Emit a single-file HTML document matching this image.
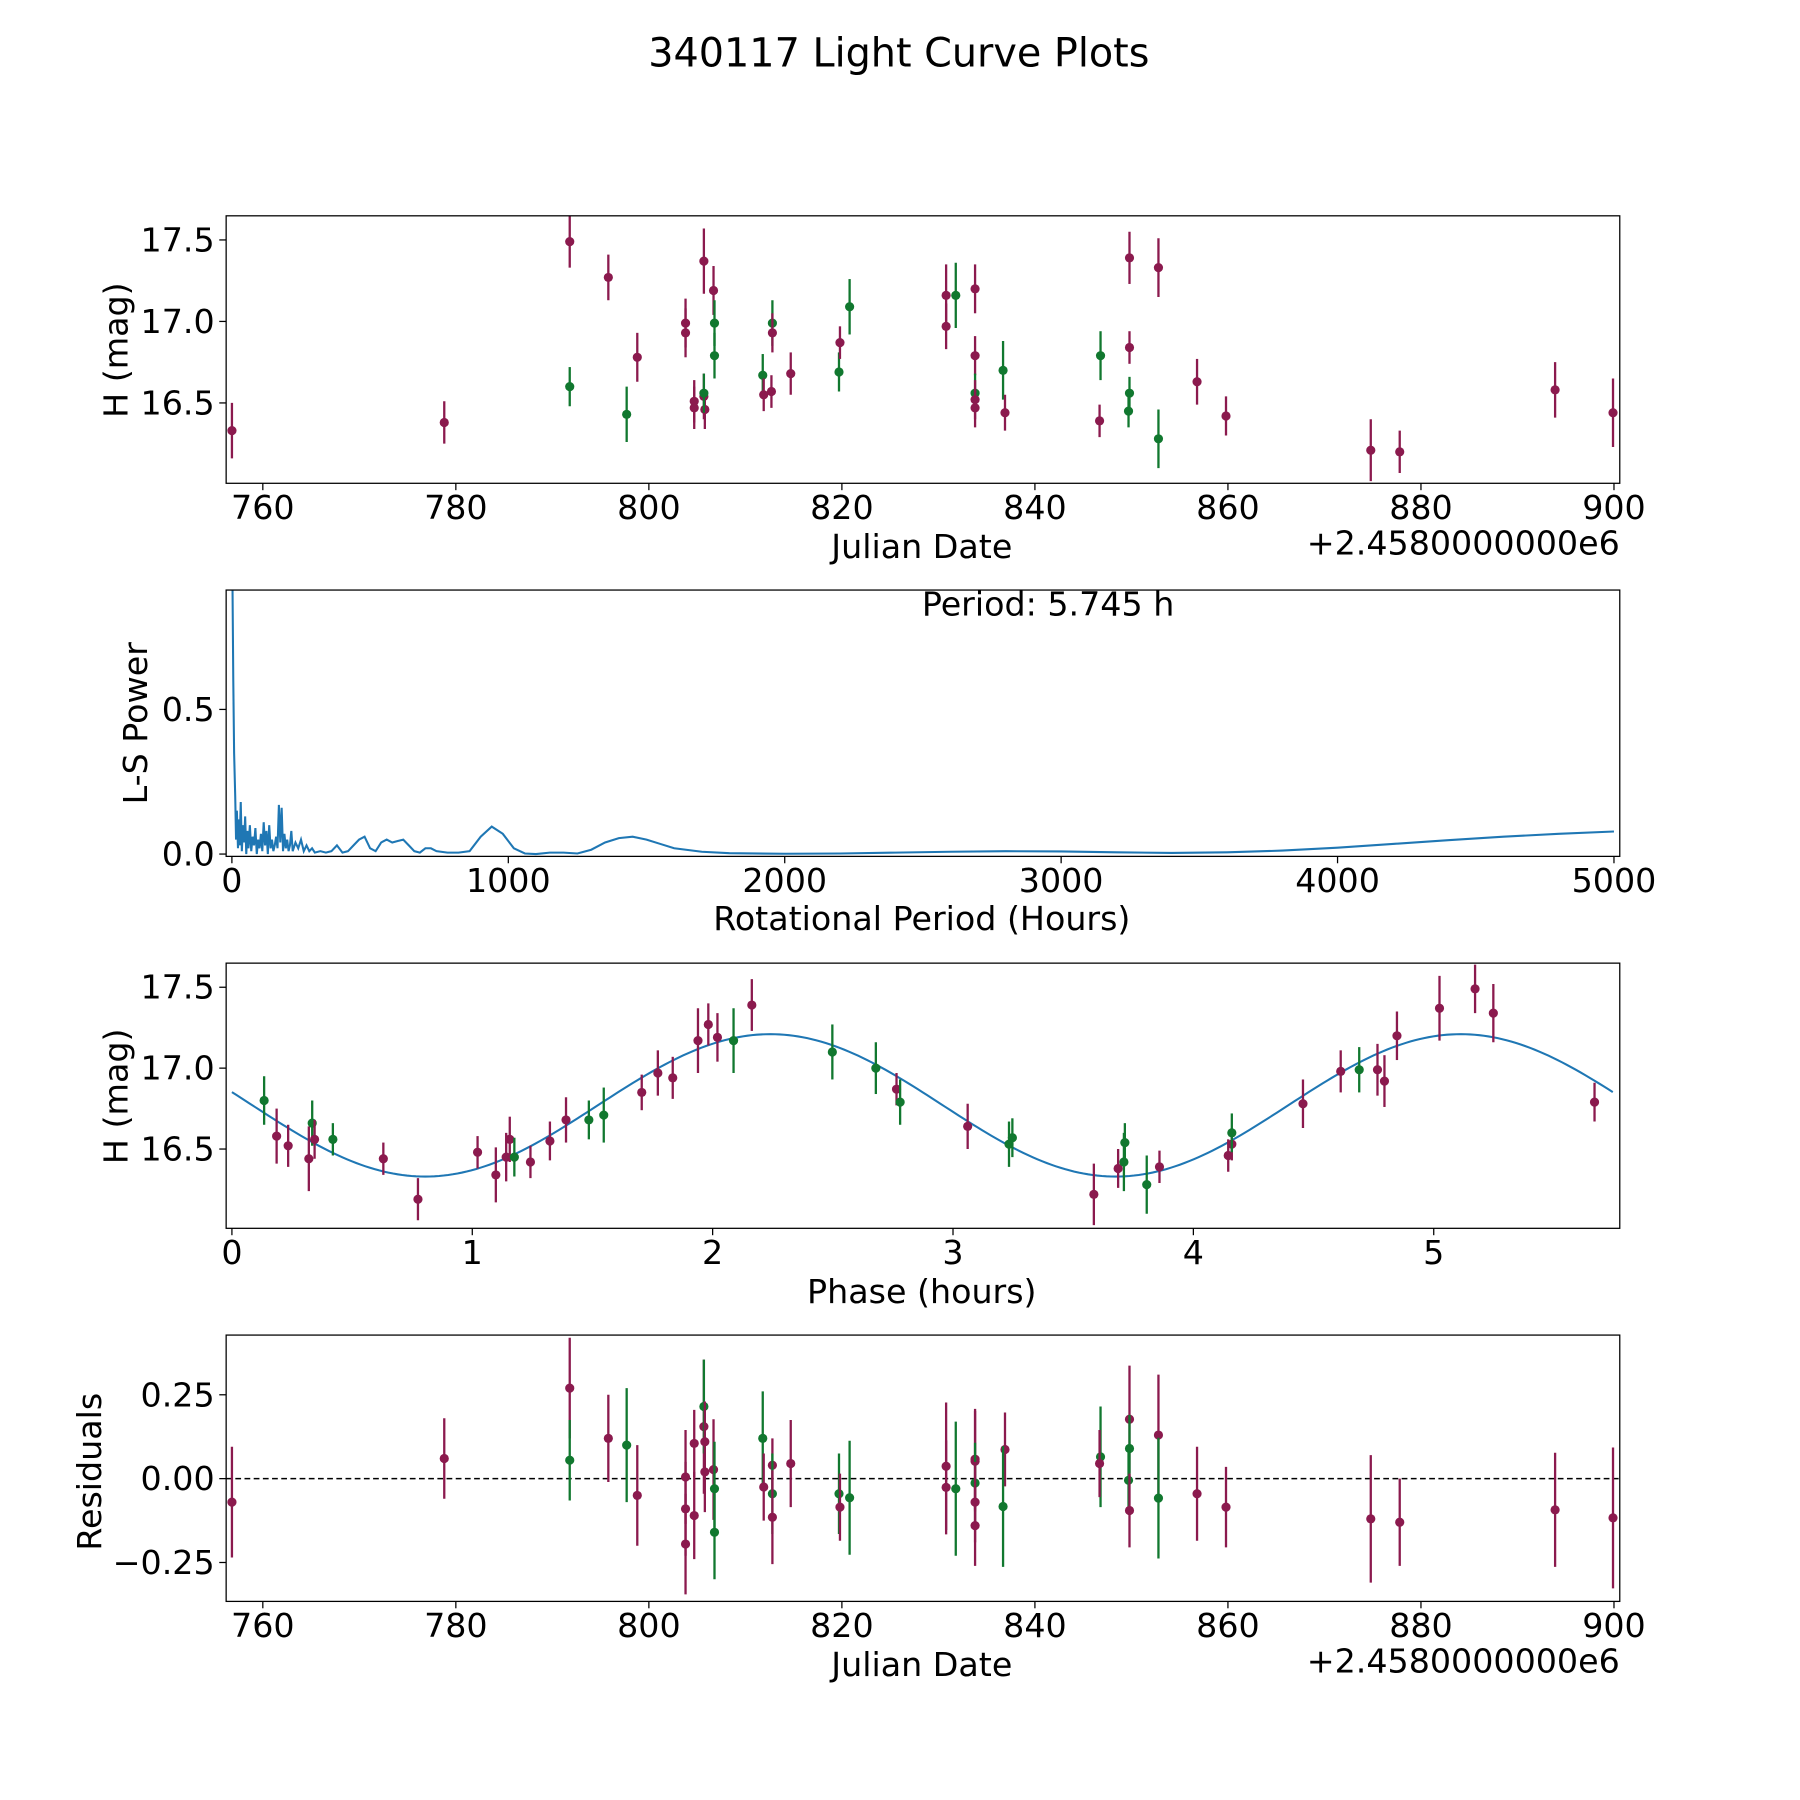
<!DOCTYPE html>
<html><head><meta charset="utf-8"><style>
html,body{margin:0;padding:0;background:#fff}
svg{display:block}
text{font-family:"DejaVu Sans","Liberation Sans",sans-serif;fill:#000}
</style></head><body>
<svg id="fig" width="1800" height="1800" viewBox="0 0 1568 1568" xmlns="http://www.w3.org/2000/svg">
<rect width="1568" height="1568" fill="#fff"/>
<text x="783" y="58" font-size="34.6" text-anchor="middle">340117 Light Curve Plots</text>
</svg>
<script>
// ---- Panel 1: raw light curve ----
const lcDate = [756.8,778.8,791.8,791.8,795.8,797.7,798.8,803.8,803.8,804.7,804.7,805.7,805.7,805.8,805.7,806.7,806.8,806.8,811.8,811.9,812.8,812.8,812.7,814.7,819.7,819.8,820.8,830.8,830.8,831.8,833.8,833.8,833.8,833.8,833.8,836.7,836.9,846.8,846.7,849.8,849.8,849.8,849.7,852.8,852.8,856.8,859.8,874.8,877.8,893.9,899.9];
const lcMag = [16.33,16.38,17.49,16.60,17.27,16.43,16.78,16.99,16.93,16.51,16.47,17.37,16.54,16.46,16.56,17.19,16.99,16.79,16.67,16.55,16.99,16.93,16.57,16.68,16.69,16.87,17.09,17.16,16.97,17.16,17.20,16.79,16.56,16.52,16.47,16.70,16.44,16.79,16.39,17.39,16.84,16.56,16.45,17.33,16.28,16.63,16.42,16.21,16.20,16.58,16.44];
const lcErr = [0.17,0.13,0.16,0.12,0.14,0.17,0.15,0.15,0.15,0.13,0.13,0.20,0.14,0.12,0.12,0.15,0.14,0.14,0.13,0.10,0.14,0.12,0.10,0.13,0.12,0.10,0.17,0.19,0.14,0.20,0.15,0.12,0.12,0.12,0.12,0.18,0.11,0.15,0.10,0.16,0.10,0.10,0.10,0.18,0.18,0.14,0.12,0.19,0.13,0.17,0.21];
const lcColor = ["P","P","P","G","P","G","P","P","P","P","P","P","P","P","G","P","G","G","G","P","G","P","P","P","G","P","G","P","P","G","P","P","G","P","P","G","P","G","P","P","P","G","G","P","G","P","P","P","P","P","P"];
const dateTicks = [760,780,800,820,840,860,880,900];
const magTicks = [16.5,17.0,17.5];
const magTickLabels = ["16.5","17.0","17.5"];
// ---- Panel 2: periodogram ----
const lsPeriod = [2,5,8,12,15,18,22,25,28,32,36,40,44,48,52,56,60,65,70,75,80,85,90,95,100,105,110,115,120,125,130,135,140,145,150,155,160,165,170,175,180,185,190,195,200,205,210,215,220,230,240,250,260,270,280,290,300,320,340,360,380,400,420,440,460,480,500,520,540,560,580,600,620,640,660,680,700,720,740,780,820,860,900,940,980,1020,1060,1100,1150,1200,1250,1300,1350,1400,1450,1500,1550,1600,1700,1800,2000,2200,2400,2600,2800,3000,3200,3400,3600,3800,4000,4200,4400,4600,4800,5000];
const lsPower = [0.95,0.6,0.35,0.2,0.05,0.15,0.02,0.12,0.03,0.18,0.01,0.1,0.04,0.13,0.0,0.08,0.02,0.1,0.01,0.06,0.03,0.09,0.0,0.05,0.02,0.07,0.01,0.11,0.03,0.08,0.0,0.1,0.02,0.05,0.01,0.03,0.06,0.02,0.17,0.04,0.16,0.01,0.07,0.02,0.05,0.01,0.03,0.08,0.01,0.04,0.02,0.05,0.01,0.03,0.01,0.02,0.005,0.01,0.005,0.01,0.03,0.005,0.01,0.03,0.05,0.06,0.02,0.01,0.04,0.05,0.04,0.045,0.05,0.03,0.01,0.005,0.02,0.02,0.01,0.005,0.005,0.01,0.06,0.095,0.07,0.02,0.002,0.0,0.005,0.005,0.002,0.015,0.04,0.055,0.06,0.05,0.035,0.02,0.008,0.003,0.001,0.002,0.005,0.008,0.01,0.009,0.006,0.004,0.006,0.012,0.022,0.035,0.048,0.06,0.07,0.078];
const lsXTicks = [0,1000,2000,3000,4000,5000];
const lsYTicks = [0.0,0.5];
const lsYTickLabels = ["0.0","0.5"];
// ---- Panel 3: phased curve ----
const phPhase = [0.134,0.186,0.234,0.32,0.334,0.344,0.42,0.63,0.774,1.022,1.098,1.141,1.156,1.175,1.242,1.323,1.39,1.485,1.547,1.705,1.772,1.834,1.939,1.982,2.02,2.087,2.163,2.498,2.679,2.765,2.78,3.061,3.233,3.247,3.586,3.687,3.711,3.715,3.806,3.859,4.145,4.16,4.16,4.456,4.613,4.69,4.766,4.795,4.847,5.024,5.172,5.248,5.669];
const phMag = [16.80,16.58,16.52,16.44,16.66,16.56,16.56,16.44,16.19,16.48,16.34,16.45,16.56,16.45,16.42,16.55,16.68,16.68,16.71,16.85,16.97,16.94,17.17,17.27,17.19,17.17,17.39,17.10,17.00,16.87,16.79,16.64,16.53,16.57,16.22,16.38,16.42,16.54,16.28,16.39,16.46,16.53,16.60,16.78,16.98,16.99,16.99,16.92,17.20,17.37,17.49,17.34,16.79];
const phErr = [0.15,0.17,0.13,0.2,0.14,0.12,0.1,0.1,0.13,0.1,0.17,0.15,0.14,0.12,0.1,0.12,0.14,0.12,0.17,0.11,0.14,0.13,0.2,0.13,0.15,0.2,0.16,0.17,0.16,0.1,0.14,0.14,0.14,0.12,0.19,0.12,0.18,0.12,0.18,0.1,0.1,0.1,0.12,0.15,0.13,0.14,0.16,0.16,0.15,0.2,0.15,0.18,0.12];
const phColor = ["G","P","P","P","G","P","G","P","P","P","P","P","P","G","P","P","P","G","G","P","P","P","P","P","P","G","P","G","G","P","G","P","G","G","P","P","G","G","G","P","P","P","G","P","P","G","P","P","P","P","P","P","P"];
const fitMean = 16.77, fitAmp = 0.44, fitPeak = 2.24, fitPeriod = 2.8725, fitEnd = 5.745;
const phTicks = [0,1,2,3,4,5];
// ---- Panel 4: residuals ----
const rsDate = [756.8,778.8,791.8,791.8,795.8,797.7,798.8,803.8,803.8,803.8,804.7,804.7,805.7,805.7,805.8,805.8,806.7,806.8,806.8,811.8,811.9,812.8,812.8,812.8,814.7,819.7,819.8,820.8,830.8,830.8,831.8,833.8,833.8,833.8,833.8,833.8,836.9,836.7,846.8,846.7,849.8,849.8,849.7,849.8,852.8,852.8,856.8,859.8,874.8,877.8,893.9,899.9];
const rsVal = [-0.07,0.06,0.27,0.055,0.12,0.10,-0.05,0.005,-0.09,-0.195,0.105,-0.11,0.155,0.215,0.11,0.02,0.027,-0.03,-0.16,0.12,-0.025,0.04,-0.045,-0.115,0.045,-0.045,-0.085,-0.057,0.037,-0.026,-0.03,0.058,0.052,-0.013,-0.07,-0.14,0.087,-0.083,0.065,0.045,0.177,0.09,-0.005,-0.095,0.13,-0.058,-0.045,-0.085,-0.12,-0.13,-0.093,-0.117];
const rsErr = [0.165,0.12,0.15,0.12,0.13,0.17,0.15,0.14,0.14,0.15,0.1,0.13,0.2,0.14,0.12,0.12,0.15,0.14,0.14,0.14,0.1,0.08,0.12,0.14,0.13,0.12,0.1,0.17,0.19,0.14,0.2,0.15,0.15,0.12,0.12,0.12,0.11,0.18,0.15,0.1,0.16,0.1,0.1,0.11,0.18,0.18,0.14,0.12,0.19,0.13,0.17,0.21];
const rsColor = ["P","P","P","G","P","G","P","P","P","P","P","P","P","G","P","P","P","G","G","G","P","P","G","P","P","G","P","G","P","P","G","P","P","G","P","P","P","G","G","P","P","G","G","P","P","G","P","P","P","P","P","P"];
const rsTicks = [-0.25,0,0.25];
const rsTickLabels = ["\u22120.25","0.00","0.25"];

const NS = "http://www.w3.org/2000/svg";
const svg = document.getElementById('fig');
const COL = {P:"#8b1a4e", G:"#11782f"};
function mk(tag, attrs, parent){const e=document.createElementNS(NS,tag);for(const k in attrs)e.setAttribute(k,attrs[k]);(parent||svg).appendChild(e);return e;}
function lin(d0,d1,r0,r1){return v=>r0+(v-d0)*(r1-r0)/(d1-d0);}
const L=197,R=1411,FS=29;

function panel(name,top,bot,xd,yd){
  const g=mk('g',{});
  
  
  const cp=mk('clipPath',{id:'clip-'+name},g);
  mk('rect',{x:L,y:top,width:R-L,height:bot-top},cp);
  const plot=mk('g',{'clip-path':'url(#clip-'+name+')'},g);
  return {g,plot,top,bot,x:lin(xd[0],xd[1],L,R),y:lin(yd[0],yd[1],bot,top)};
}
function frame(p){
  const f=mk('rect',{x:L,y:p.top,width:R-L,height:p.bot-p.top,fill:'none',stroke:'#000','stroke-width':1.1},p.g);
  
  
}
function xticks(p,ticks,labels){
  ticks.forEach((t,i)=>{const X=p.x(t);
    const l=mk('line',{x1:X,x2:X,y1:p.bot,y2:p.bot+6,stroke:'#000','stroke-width':1.1},p.g);
    
    
    const tx=mk('text',{x:X,y:p.bot+31,'font-size':FS,'text-anchor':'middle'},p.g);
    
    
    tx.textContent=labels?labels[i]:String(t);});
}
function yticks(p,ticks,labels){
  ticks.forEach((t,i)=>{const Y=p.y(t);
    const l=mk('line',{x1:L-6,x2:L,y1:Y,y2:Y,stroke:'#000','stroke-width':1.1},p.g);
    
    
    const tx=mk('text',{x:L-10,y:Y+10,'font-size':FS,'text-anchor':'end'},p.g);
    
    
    tx.textContent=labels[i];});
}
function label(p,txt,x,y,rot,nm,anchor){
  const t=mk('text',{x:x,y:y,'font-size':FS,'text-anchor':anchor||'middle',transform:rot?`rotate(-90 ${x} ${y})`:''},p.g);
  
  
  t.textContent=txt;
}
function points(p,xs,ys,es,cs){
  xs.forEach((xv,i)=>{const X=p.x(xv),c=COL[cs[i]];
    const b=mk('line',{x1:X,x2:X,y1:p.y(ys[i]-es[i]),y2:p.y(ys[i]+es[i]),stroke:c,'stroke-width':2},p.plot);
    
    
    const d=mk('circle',{cx:X,cy:p.y(ys[i]),r:4,fill:c},p.plot);
    
    });
}

// Panel 1
const p1=panel('light-curve-panel',188,421,[756.2,900.6],[16.007,17.648]);
points(p1,lcDate,lcMag,lcErr,lcColor);
frame(p1);xticks(p1,dateTicks);yticks(p1,magTicks,magTickLabels);
label(p1,'Julian Date',803,486,false,'x-axis-title');
label(p1,'+2.4580000000e6',1411,483,false,'x-offset-text','end');
label(p1,'H (mag)',111,305,true,'y-axis-title');

// Panel 2
const p2=panel('periodogram-panel',514,746,[-20.8,5021],[-0.008,0.9127]);
const pts=lsPeriod.map((v,i)=>p2.x(v)+','+p2.y(lsPower[i])).join(' ');
const pl=mk('polyline',{points:pts,fill:'none',stroke:'#1f77b4','stroke-width':1.8},p2.plot);


frame(p2);xticks(p2,lsXTicks);yticks(p2,lsYTicks,lsYTickLabels);
label(p2,'Rotational Period (Hours)',803,810,false,'x-axis-title');
label(p2,'L-S Power',128,630,true,'y-axis-title');
label(p2,'Period: 5.745 h',913,536,false,'period-annotation');

// Panel 3
const p3=panel('phased-curve-panel',839,1070,[-0.024,5.774],[16.01,17.649]);
const fitX=[];for(let i=0;i<=300;i++)fitX.push(fitEnd*i/300);
const fpts=fitX.map(x=>p3.x(x)+','+p3.y(fitMean+fitAmp*Math.cos(2*Math.PI*(x-fitPeak)/fitPeriod))).join(' ');
const fl=mk('polyline',{points:fpts,fill:'none',stroke:'#1f77b4','stroke-width':1.8},p3.plot);


points(p3,phPhase,phMag,phErr,phColor);
frame(p3);xticks(p3,phTicks);yticks(p3,magTicks,magTickLabels);
label(p3,'Phase (hours)',803,1135,false,'x-axis-title');
label(p3,'H (mag)',111,955,true,'y-axis-title');

// Panel 4
const p4=panel('residuals-panel',1163,1395,[756.2,900.6],[-0.366,0.428]);
const zl=mk('line',{x1:L,x2:R,y1:p4.y(0),y2:p4.y(0),stroke:'#000','stroke-width':1.3,'stroke-dasharray':'5,3'},p4.plot);


points(p4,rsDate,rsVal,rsErr,rsColor);
frame(p4);xticks(p4,dateTicks);yticks(p4,rsTicks,rsTickLabels);
label(p4,'Julian Date',803,1460,false,'x-axis-title');
label(p4,'+2.4580000000e6',1411,1457,false,'x-offset-text','end');
label(p4,'Residuals',88,1282,true,'y-axis-title');
</script>
</body></html>
